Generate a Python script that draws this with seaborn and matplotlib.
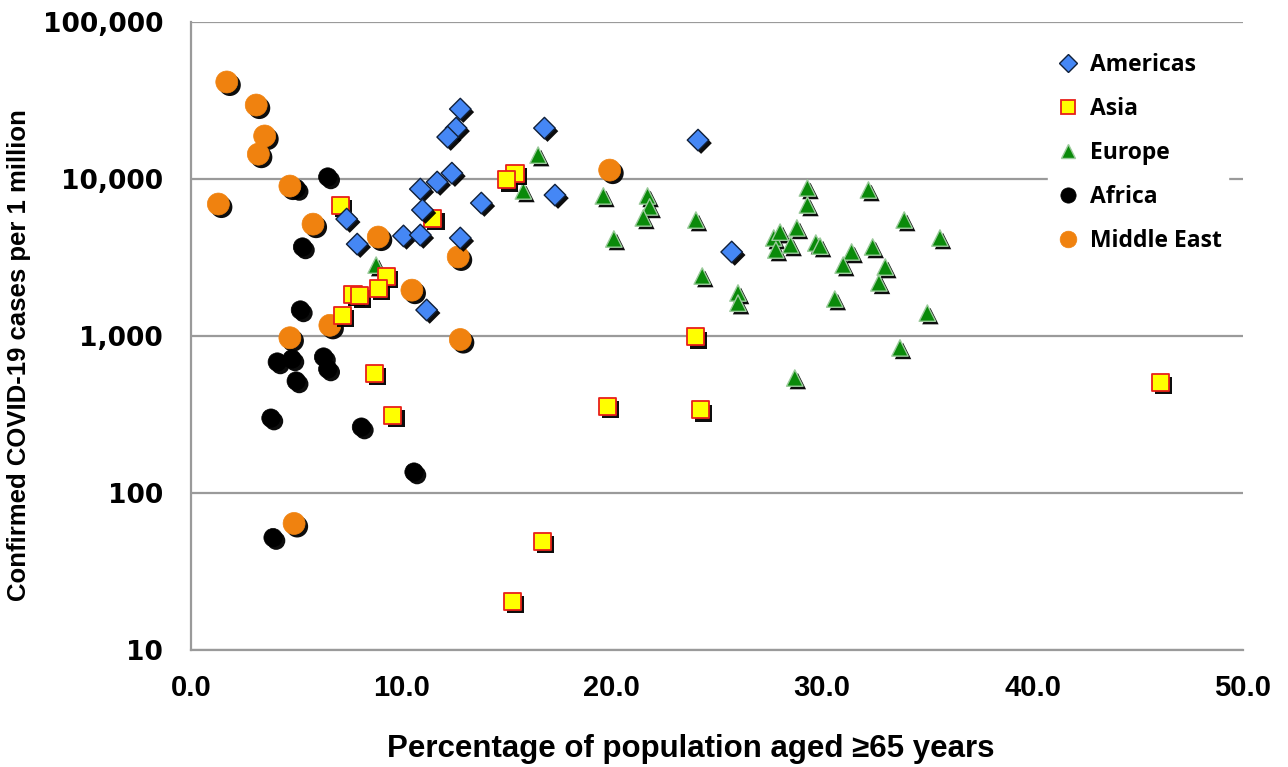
import matplotlib
matplotlib.use("Agg")
import matplotlib.pyplot as plt
import matplotlib.patheffects as pe
from matplotlib.lines import Line2D
from matplotlib.ticker import FuncFormatter, NullLocator
import pandas as pd
import seaborn as sns

# Data: % aged >=65 (x), confirmed cases per 1 million (y)
americas_x = [12.8, 12.6, 12.2, 16.8, 24.1, 12.4, 11.7, 10.9, 17.3, 13.8, 11.0, 7.4,
              10.1, 10.9, 12.8, 7.9, 25.7, 11.2]
americas_y = [27900, 21100, 18500, 21100, 17700, 10900, 9570, 8630, 7900, 7030, 6350, 5560,
              4340, 4400, 4210, 3850, 3430, 1465]

asia_x = [15.4, 15.0, 7.1, 11.5, 9.3, 8.9, 7.7, 8.0, 7.2, 24.0, 8.7, 46.1, 19.8, 24.2,
          9.6, 16.7, 15.3]
asia_y = [10900, 9860, 6830, 5640, 2380, 2020, 1850, 1800, 1360, 986, 580, 509, 358, 338,
          314, 49, 20.5]

europe_x = [16.5, 15.8, 8.8, 19.6, 21.7, 21.8, 21.5, 20.1, 24.0, 24.3, 26.0, 26.0, 29.3,
            29.3, 32.2, 27.7, 28.0, 28.8, 27.8, 28.5, 29.7, 29.9, 31.4, 31.0, 32.4, 33.0,
            32.7, 30.6, 33.9, 35.6, 35.0, 33.7, 28.7]
europe_y = [14200, 8390, 2830, 7800, 7800, 6640, 5650, 4150, 5480, 2410, 1880, 1620, 8770,
            6830, 8510, 4210, 4590, 4880, 3530, 3800, 3910, 3740, 3430, 2830, 3690, 2750,
            2180, 1720, 5480, 4210, 1400, 840, 540]

africa_x = [6.5, 5.0, 5.3, 5.2, 4.1, 4.8, 6.3, 6.5, 5.0, 3.8, 8.1, 10.6, 3.9]
africa_y = [10300, 8700, 3690, 1465, 683, 714, 735, 616, 517, 300, 263, 136, 52]

mideast_x = [1.7, 3.1, 3.5, 3.2, 1.3, 4.7, 5.8, 8.9, 12.7, 10.5, 6.6, 4.7, 12.8, 4.9, 19.9]
mideast_y = [41500, 29600, 18800, 14400, 6930, 9020, 5160, 4270, 3190, 1960, 1170, 975,
             950, 64, 11400]

regions = ["Americas", "Asia", "Europe", "Africa", "Middle East"]

df = pd.concat([
    pd.DataFrame({"age65": americas_x, "cases": americas_y, "region": "Americas"}),
    pd.DataFrame({"age65": asia_x, "cases": asia_y, "region": "Asia"}),
    pd.DataFrame({"age65": europe_x, "cases": europe_y, "region": "Europe"}),
    pd.DataFrame({"age65": africa_x, "cases": africa_y, "region": "Africa"}),
    pd.DataFrame({"age65": mideast_x, "cases": mideast_y, "region": "Middle East"}),
], ignore_index=True)

# marker styling per region
styles = {
    "Americas":    dict(marker="D", s=120, color="#4587F5", edgecolor="#10203a", linewidth=1.0),
    "Asia":        dict(marker="s", s=150, color="#FFFF00", edgecolor="#E8201A", linewidth=1.3),
    "Europe":      dict(marker="^", s=140, color="#0A8A0A", edgecolor="#9CCB9C", linewidth=1.0),
    "Africa":      dict(marker="o", s=175, color="#000000", edgecolor="#000000", linewidth=0.5),
    "Middle East": dict(marker="o", s=250, color="#F0820F", edgecolor="#F0820F", linewidth=0.5),
}
draw_order = ["Africa", "Middle East", "Europe", "Asia", "Americas"]

sns.set_style("white")
plt.rcParams["text.color"] = "black"
plt.rcParams["axes.labelcolor"] = "black"
plt.rcParams["xtick.labelcolor"] = "black"
plt.rcParams["ytick.labelcolor"] = "black"

fig, ax = plt.subplots(figsize=(12.88, 7.67), dpi=100)
fig.subplots_adjust(left=0.1483, right=0.965, top=0.9713, bottom=0.1525)

shadow = [pe.SimplePatchShadow(offset=(2.2, -2.2), shadow_rgbFace="black", alpha=0.95),
          pe.Normal()]

for reg in draw_order:
    st = styles[reg]
    sns.scatterplot(data=df[df["region"] == reg], x="age65", y="cases", ax=ax,
                    marker=st["marker"], s=st["s"], color=st["color"],
                    edgecolor=st["edgecolor"], linewidth=st["linewidth"], zorder=3,
                    legend=False)
    ax.collections[-1].set_path_effects(shadow)

ax.set_yscale("log")
ax.set_ylim(10, 100000)
ax.set_xlim(0, 50)
ax.set_xticks([0, 10, 20, 30, 40, 50])
ax.set_yticks([10, 100, 1000, 10000, 100000])
ax.yaxis.set_minor_locator(NullLocator())
ax.yaxis.set_major_formatter(FuncFormatter(lambda v, p: f"{int(round(v)):,}"))
ax.xaxis.set_major_formatter(FuncFormatter(lambda v, p: f"{v:.1f}"))

grid_col = "#9a9a9a"
ax.yaxis.grid(True, color=grid_col, linewidth=1.6, zorder=0)
ax.xaxis.grid(False)
ax.set_axisbelow(True)
for side in ["top", "right"]:
    ax.spines[side].set_visible(False)
for side in ["left", "bottom"]:
    ax.spines[side].set_color(grid_col)
    ax.spines[side].set_linewidth(1.6)

ax.tick_params(axis="y", direction="out", length=7, width=1.6, color=grid_col, pad=13)
ax.tick_params(axis="x", direction="out", length=8, width=1.6, color=grid_col, pad=9)

narrow = ["Liberation Sans", "DejaVu Sans"]
for lab in ax.get_yticklabels():
    lab.set_fontfamily(["DejaVu Sans"])
    lab.set_fontweight("bold")
    lab.set_fontsize(19)
    lab.set_color("black")
for lab in ax.get_xticklabels():
    lab.set_fontfamily(narrow)
    lab.set_fontweight("bold")
    lab.set_fontsize(21)
    lab.set_color("black")

ax.set_xlabel("Percentage of population aged ≥65 years", family=narrow, fontweight="bold",
              fontsize=22.5, color="black")
ax.xaxis.set_label_coords(0.4755, -0.133)
ax.set_ylabel("Confirmed COVID-19 cases per 1 million", family=narrow, fontweight="bold",
              fontsize=18.5, color="black")
ax.yaxis.set_label_coords(-0.152, 0.47)

handles = [Line2D([], [], linestyle="none", marker=styles[r]["marker"],
                  markerfacecolor=styles[r]["color"], markeredgecolor=styles[r]["edgecolor"],
                  markeredgewidth=styles[r]["linewidth"],
                  markersize={"Americas": 9, "Asia": 10, "Europe": 10, "Africa": 11,
                              "Middle East": 12}[r])
           for r in regions]
leg = ax.legend(handles, regions, loc="upper right", bbox_to_anchor=(0.997, 0.98),
                frameon=True, framealpha=1, facecolor="white", edgecolor="white",
                prop={"family": ["Open Sans", "DejaVu Sans"], "weight": "bold", "size": 16.5},
                labelspacing=0.87, handletextpad=0.4, handlelength=1.1, borderpad=0.3)
for t in leg.get_texts():
    t.set_color("black")
leg.set_zorder(5)

fig.savefig("out.png", dpi=100)
